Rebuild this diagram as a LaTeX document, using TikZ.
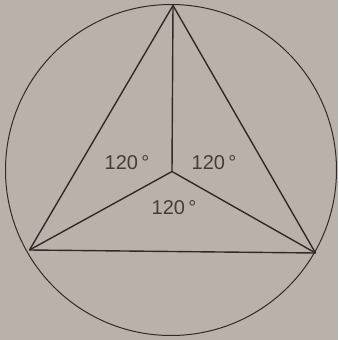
\documentclass[tikz,border=0pt]{standalone}
\usepackage{fontspec}
\setmainfont{Liberation Sans}
\definecolor{bg}{RGB}{186,178,170}
\definecolor{ink}{RGB}{52,40,40}
\definecolor{txt}{RGB}{70,60,60}
\begin{document}
\begin{tikzpicture}[x=1pt,y=1pt,
  edge/.style={draw=ink,line width=1.4pt,line join=round},
  rim/.style={draw=ink,line width=1pt},
  anglabel/.style={text=txt,font=\fontsize{20}{20}\selectfont,inner sep=0pt}]
\fill[bg] (0,0) rectangle (338,-340);
\useasboundingbox (0,0) rectangle (338,-340);
\coordinate (O) at (172,-171.5);
\coordinate (A) at (173,-5.5);
\coordinate (B) at (29.5,-250);
\coordinate (C) at (315.5,-253);
\draw[rim] (171,-170) circle (165.5);
\draw[edge] (A) -- (B) -- (C) -- cycle;
\draw[edge] (O) -- (A);
\draw[edge] (O) -- (B);
\draw[edge] (O) -- (C);
\node[anglabel] (l1) at (127,-163) {120\,°};
\node[anglabel] (l2) at (214,-163) {120\,°};
\node[anglabel] (l3) at (174,-208) {120\,°};
\end{tikzpicture}
\end{document}
